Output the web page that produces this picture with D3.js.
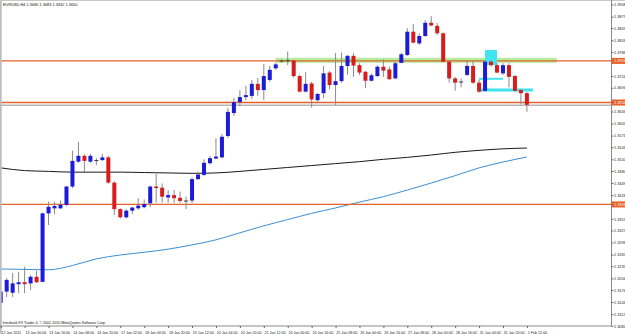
<!DOCTYPE html>
<html>
<head>
<meta charset="utf-8">
<script src="https://cdn.jsdelivr.net/npm/d3@7"></script>
<style>
  html, body { margin: 0; padding: 0; background: #fff; }
  svg { display: block; }
  text { font-family: "Liberation Sans", Arial, sans-serif; }
</style>
</head>
<body>
<svg id="chart" width="625" height="334"></svg>
<script>
const symbol = 'EURUSD,H4';
const copyright = 'Interbank FX Trader 4, \u00a9 2001-2010 MetaQuotes Software Corp.';

// H4 bars, 12 Jan 2011 08:00 .. 1 Feb 12:00
const opens = [
  1.3141,1.3170,1.3167,1.3189,1.3194,1.3191,1.3208,1.3195,1.3371,1.3384,
  1.3384,1.3393,1.3440,1.3504,1.3519,1.3504,1.3508,1.3508,1.3515,1.3450,
  1.3382,1.3361,1.3378,1.3384,1.3387,1.3397,1.3440,1.3437,1.3412,1.3418,
  1.3411,1.3404,1.3404,1.3459,1.3470,1.3500,1.3512,1.3515,1.3570,1.3629,
  1.3657,1.3670,1.3673,1.3704,1.3688,1.3714,1.3744,1.3764,1.3765,1.3764,
  1.3724,1.3684,1.3705,1.3662,1.3680,1.3733,1.3701,1.3711,1.3750,1.3776,
  1.3752,1.3735,1.3712,1.3724,1.3748,1.3741,1.3718,1.3758,1.3778,1.3838,
  1.3808,1.3827,1.3861,1.3853,1.3834,1.3761,1.3718,1.3710,1.3727,1.3750,
  1.3707,1.3686,1.3761,1.3752,1.3731,1.3752,1.3724,1.3688,1.3680];
const highs = [
  1.3177,1.3205,1.3218,1.3221,1.3234,1.3213,1.3224,1.3373,1.3401,1.3401,
  1.3404,1.3441,1.3532,1.3555,1.3523,1.3524,1.3513,1.3524,1.3519,1.3454,
  1.3384,1.3382,1.3388,1.3410,1.3407,1.3442,1.3478,1.3448,1.3431,1.3431,
  1.3427,1.3414,1.3463,1.3478,1.3510,1.3519,1.3564,1.3575,1.3642,1.3668,
  1.3688,1.3699,1.3714,1.3719,1.3755,1.3750,1.3758,1.3767,1.3787,1.3765,
  1.3727,1.3735,1.3709,1.3681,1.3750,1.3737,1.3783,1.3784,1.3778,1.3783,
  1.3757,1.3737,1.3731,1.3752,1.3767,1.3748,1.3761,1.3784,1.3847,1.3858,
  1.3834,1.3868,1.3878,1.3860,1.3836,1.3765,1.3722,1.3718,1.3764,1.3764,
  1.3714,1.3765,1.3765,1.3757,1.3757,1.3757,1.3727,1.3691,1.3683];
const lows = [
  1.3092,1.3156,1.3156,1.3166,1.3166,1.3174,1.3192,1.3194,1.3341,1.3369,
  1.3382,1.3390,1.3436,1.3501,1.3477,1.3501,1.3495,1.3506,1.3447,1.3367,
  1.3358,1.3358,1.3369,1.3380,1.3384,1.3387,1.3398,1.3398,1.3398,1.3398,
  1.3398,1.3382,1.3397,1.3457,1.3467,1.3497,1.3510,1.3512,1.3565,1.3621,
  1.3647,1.3662,1.3665,1.3673,1.3662,1.3709,1.3740,1.3759,1.3752,1.3720,
  1.3682,1.3682,1.3643,1.3658,1.3667,1.3690,1.3650,1.3707,1.3727,1.3722,
  1.3727,1.3693,1.3710,1.3722,1.3722,1.3714,1.3716,1.3757,1.3776,1.3808,
  1.3804,1.3825,1.3853,1.3830,1.3760,1.3707,1.3686,1.3695,1.3724,1.3704,
  1.3681,1.3684,1.3748,1.3731,1.3727,1.3695,1.3684,1.3651,1.3632];
const closes = [
  1.3170,1.3200,1.3191,1.3194,1.3189,1.3208,1.3194,1.3371,1.3388,1.3390,
  1.3393,1.3440,1.3506,1.3519,1.3506,1.3519,1.3508,1.3515,1.3450,1.3382,
  1.3361,1.3378,1.3386,1.3391,1.3395,1.3440,1.3436,1.3414,1.3418,1.3410,
  1.3403,1.3404,1.3459,1.3471,1.3501,1.3513,1.3517,1.3568,1.3632,1.3657,
  1.3670,1.3675,1.3704,1.3688,1.3724,1.3740,1.3754,1.3764,1.3765,1.3724,
  1.3684,1.3704,1.3664,1.3678,1.3731,1.3701,1.3711,1.3750,1.3776,1.3751,
  1.3733,1.3712,1.3726,1.3748,1.3738,1.3716,1.3757,1.3780,1.3838,1.3810,
  1.3827,1.3861,1.3854,1.3834,1.3761,1.3718,1.3707,1.3710,1.3750,1.3707,
  1.3684,1.3761,1.3752,1.3733,1.3752,1.3722,1.3686,1.3680,1.3650];

// moving averages, read every 4th bar
const maBars = d3.range(0, 89, 4);
const maSlow = [1.3488,1.3481,1.3479,1.3477,1.3477,1.3477,1.3476,1.3475,1.3474,1.3475,1.3479,1.3484,
  1.3489,1.3494,1.3499,1.3504,1.3510,1.3515,1.3521,1.3528,1.3533,1.3537,1.3539];
const maFast = [1.3228,1.3227,1.3226,1.3237,1.3254,1.3264,1.3271,1.3279,1.3290,1.3303,1.3321,1.3339,
  1.3355,1.3371,1.3385,1.3400,1.3414,1.3431,1.3449,1.3468,1.3488,1.3503,1.3516];

// time axis labels, one every 4 bars
const timeBars = d3.range(0, 89, 4);
const timeLabels = ['12 Jan 2011','13 Jan 00:00','13 Jan 16:00','14 Jan 08:00','16 Jan 20:00',
  '17 Jan 12:00','18 Jan 04:00','18 Jan 20:00','19 Jan 12:00','20 Jan 04:00','20 Jan 20:00',
  '21 Jan 12:00','24 Jan 00:00','24 Jan 16:00','25 Jan 08:00','26 Jan 00:00','26 Jan 16:00',
  '27 Jan 08:00','28 Jan 00:00','28 Jan 16:00','31 Jan 04:00','31 Jan 20:00','1 Feb 12:00'];

const priceTicks = [1.3908,1.3877,1.3847,1.3816,1.3786,1.3755,1.3724,1.3694,1.3663,1.3633,
  1.3602,1.3571,1.3541,1.3510,1.3480,1.3449,1.3418,1.3388,1.3357,1.3327,1.3296,1.3265,
  1.3235,1.3204,1.3174,1.3143,1.3112,1.3082];

// drawn objects
const levels = [1.3763, 1.3656, 1.3394];
const zoneBars = [46, 93];
const zonePrices = [1.3771, 1.3758];
const boxBars = [81, 83];
const boxPrices = [1.3791, 1.3752];
const cyanLineStart = [80, 80];
const cyanLineEnd = [84, 89];
const cyanLinePrice = [1.3717, 1.3688];

const W = 625, H = 334;
const axisX = 611.5, axisY = 326;
const fontSize = 3.8;

const svg = d3.select('#chart');
const x = d3.scaleLinear().domain([0, 88]).range([0.7, 526.9]);
const y = d3.scaleLinear().domain([1.3082, 1.3908]).range([325.8, 4.5]);

const bars = opens.map((o, i) => ({ i, o, h: highs[i], l: lows[i], c: closes[i] }));

svg.append('rect').attr('width', W).attr('height', H).attr('fill', '#fff');

// moving averages
const line = d3.line().x(d => x(d[0])).y(d => y(d[1])).curve(d3.curveMonotoneX);
svg.append('path').datum(maBars.map((b, k) => [b, maFast[k]]))
  .attr('d', line).attr('fill', 'none').attr('stroke', '#3b8fd4').attr('stroke-width', 1);
svg.append('path').datum(maBars.map((b, k) => [b, maSlow[k]]))
  .attr('d', line).attr('fill', 'none').attr('stroke', '#1a1a1a').attr('stroke-width', 1);

// green zone
svg.append('rect')
  .attr('x', x(zoneBars[0])).attr('width', x(zoneBars[1]) - x(zoneBars[0]))
  .attr('y', y(zonePrices[0])).attr('height', y(zonePrices[1]) - y(zonePrices[0]))
  .attr('fill', '#9ce87c').attr('opacity', 0.75);

// horizontal levels
svg.selectAll('line.level').data(levels).join('line').attr('class', 'level')
  .attr('x1', 0).attr('x2', axisX).attr('y1', d => y(d)).attr('y2', d => y(d))
  .attr('stroke', '#e4612b').attr('stroke-width', 1.3);

// bid line
const bidY = y(closes[closes.length - 1]) + 0.3;
svg.append('line').attr('x1', 0).attr('x2', axisX).attr('y1', bidY).attr('y2', bidY)
  .attr('stroke', '#777').attr('stroke-width', 0.8);

// cyan drawings
svg.append('rect')
  .attr('x', x(boxBars[0])).attr('width', x(boxBars[1]) - x(boxBars[0]))
  .attr('y', y(boxPrices[0])).attr('height', y(boxPrices[1]) - y(boxPrices[0]))
  .attr('fill', '#3fe3f2');
svg.selectAll('line.cyan').data(cyanLinePrice).join('line').attr('class', 'cyan')
  .attr('x1', (d, k) => x(cyanLineStart[k])).attr('x2', (d, k) => x(cyanLineEnd[k]))
  .attr('y1', d => y(d)).attr('y2', d => y(d))
  .attr('stroke', '#3fe3f2').attr('stroke-width', (d, k) => k === 0 ? 2 : 3);

// candles
const g = svg.append('g');
g.selectAll('line.wick').data(bars).join('line').attr('class', 'wick')
  .attr('x1', d => x(d.i)).attr('x2', d => x(d.i))
  .attr('y1', d => y(d.h)).attr('y2', d => y(d.l))
  .attr('stroke', '#8a8a8a').attr('stroke-width', 1);
g.selectAll('rect.body').data(bars).join('rect').attr('class', 'body')
  .attr('x', d => x(d.i) - 2).attr('width', 4)
  .attr('y', d => y(Math.max(d.o, d.c)))
  .attr('height', d => Math.max(1, Math.abs(y(d.o) - y(d.c))))
  .attr('fill', d => d.c > d.o ? '#1c1cd8' : d.c < d.o ? '#d81c1c' : '#333');

// border
svg.append('rect').attr('x', 0).attr('y', 0).attr('width', 1.7).attr('height', H).attr('fill', '#bdbdbd');
svg.append('line').attr('x1', 0).attr('x2', W).attr('y1', 0.5).attr('y2', 0.5).attr('stroke', '#c8c8c8');
svg.append('line').attr('x1', axisX).attr('x2', axisX).attr('y1', 0).attr('y2', axisY)
  .attr('stroke', '#8a8a8a').attr('stroke-width', 1);
svg.append('line').attr('x1', 0).attr('x2', axisX).attr('y1', axisY).attr('y2', axisY)
  .attr('stroke', '#8a8a8a').attr('stroke-width', 1);

// price axis (skip ticks hidden under the level labels)
const shownTicks = priceTicks.filter(t => levels.every(l => Math.abs(y(t) - y(l)) > 5));
const yAxis = svg.append('g').attr('transform', `translate(${axisX},0)`)
  .call(d3.axisRight(y).tickValues(shownTicks).tickFormat(d3.format('.4f')).tickSize(2).tickPadding(0.5));
yAxis.select('.domain').remove();
yAxis.selectAll('line').attr('stroke', '#666');
yAxis.selectAll('text').attr('font-size', fontSize).attr('fill', '#222')
  .attr('font-family', '"Liberation Sans", Arial, sans-serif');

// time axis
const xAxis = svg.append('g').attr('transform', `translate(0,${axisY})`)
  .call(d3.axisBottom(x).tickValues(timeBars).tickFormat((d, k) => timeLabels[k]).tickSize(2));
xAxis.select('.domain').remove();
xAxis.selectAll('line').attr('stroke', '#666');
xAxis.selectAll('text').attr('font-size', 3.6).attr('fill', '#222').attr('text-anchor', 'start')
  .attr('y', 5.4).attr('dy', '0.71em').attr('dx', 0.3)
  .attr('font-family', '"Liberation Sans", Arial, sans-serif');

// level labels on the price axis
const lab = svg.selectAll('g.lvl').data(levels).join('g').attr('class', 'lvl')
  .attr('transform', d => `translate(${axisX},${y(d)})`);
lab.append('rect').attr('x', 0).attr('y', -3).attr('width', W - axisX).attr('height', 6).attr('fill', '#e4612b');
lab.append('text').attr('x', 2.5).attr('y', 1.4).attr('font-size', fontSize).attr('fill', '#fff')
  .text(d => d3.format('.4f')(d));

// header and footer
const last = bars[bars.length - 1];
svg.append('text').attr('x', 3).attr('y', 5.8).attr('font-size', 3.9).attr('fill', '#111')
  .text(`${symbol}  ${[last.o, last.h, last.l, last.c].map(d3.format('.4f')).join(' ')}`);
svg.append('text').attr('x', 2.5).attr('y', 324.3).attr('font-size', 3.6).attr('fill', '#111')
  .text(copyright);
</script>
</body>
</html>
